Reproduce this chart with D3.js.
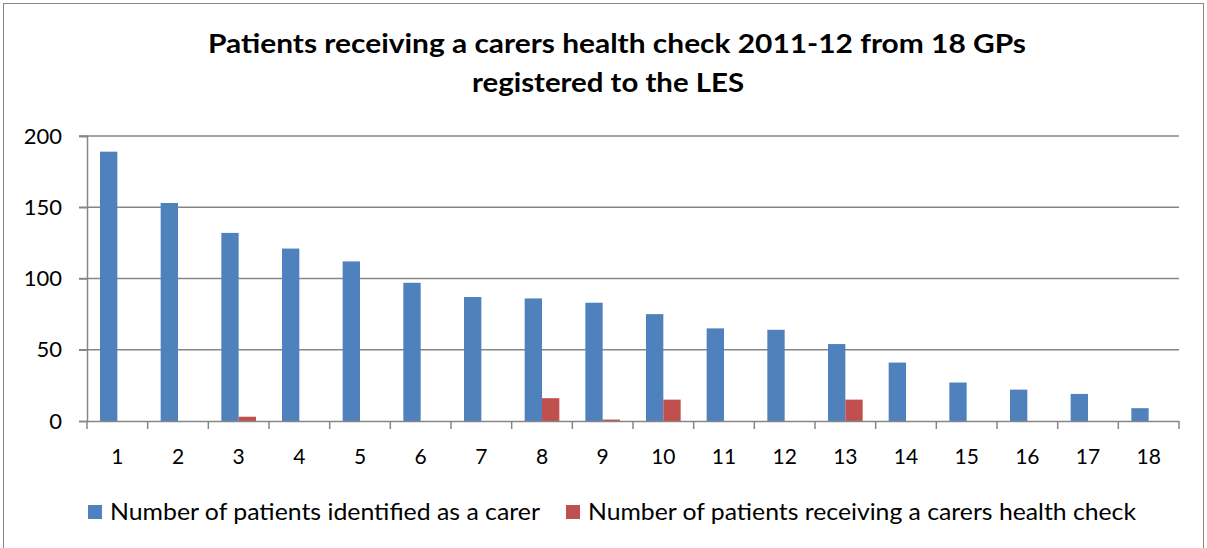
<!DOCTYPE html>
<meta charset="utf-8">
<style>
  body { margin: 0; background: #fff; }
  text { font-family: Lato, "Liberation Sans", sans-serif; fill: #000; }
</style>
<body>
<div id="chart"></div>
<script src="https://cdn.jsdelivr.net/npm/d3@7"></script>
<script>
    var width = 1207, height = 548;

    var practices = d3.range(1, 19).map(String);
    var carers = [189, 153, 132, 121, 112, 97, 87, 86, 83, 75, 65, 64, 54, 41, 27, 22, 19, 9];
    var checks = [0, 0, 3, 0, 0, 0, 0, 16, 1, 15, 0, 0, 15, 0, 0, 0, 0, 0];
    var seriesNames = ["Number of patients identified as a carer", "Number of patients receiving a carers health check"];
    var colors = ["#4f81bd", "#c0504d"];
    var yTicks = [0, 50, 100, 150, 200];

    var margin = {left: 87, right: 1179, top: 136, bottom: 421};

    var svg = d3.select("#chart").append("svg")
        .attr("width", width)
        .attr("height", height);

    // chart frame
    svg.append("rect")
        .attr("x", 3.5).attr("y", 3.5)
        .attr("width", 1200).attr("height", 560)
        .style("fill", "none")
        .style("stroke", "#888")
        .style("stroke-width", 1);

    var x = d3.scaleBand()
        .domain(practices)
        .range([margin.left, margin.right]);

    // two bars per band, gap width 150% of a bar
    var bw = x.bandwidth() / 3.5;
    var inner = d3.scaleBand().domain([0, 1]).range([0.75 * bw, 2.75 * bw]);

    var y = d3.scaleLinear().domain([0, 200]).range([margin.bottom, margin.top]);

    // gridlines
    svg.append("g")
        .selectAll("line")
        .data(yTicks.slice(1))
        .enter().append("line")
        .attr("x1", margin.left - 8).attr("x2", margin.right)
        .attr("y1", function(d) { return y(d); })
        .attr("y2", function(d) { return y(d); })
        .style("stroke", "#868686")
        .style("stroke-width", 1.5);

    // bars
    var groups = svg.append("g")
        .selectAll("g")
        .data(practices)
        .enter().append("g")
        .attr("transform", function(d) { return "translate(" + x(d) + ",0)"; });

    [carers, checks].forEach(function(series, s) {
        groups.append("rect")
            .attr("x", inner(s))
            .attr("width", inner.bandwidth())
            .attr("y", function(d, i) { return y(series[i]); })
            .attr("height", function(d, i) { return y(0) - y(series[i]); })
            .style("fill", colors[s]);
    });

    // y axis
    var yAxis = svg.append("g")
        .attr("transform", "translate(" + margin.left + ",0)")
        .call(d3.axisLeft(y).tickValues(yTicks).tickSize(8).tickPadding(17));
    yAxis.select(".domain").style("stroke", "#868686").style("stroke-width", 1.5);
    yAxis.selectAll(".tick line").style("stroke", "#868686").style("stroke-width", 1.5);
    yAxis.selectAll("text").style("font-size", "22px").attr("fill", "#000")
        .style("font-family", "Lato, sans-serif");

    // x axis
    var xAxis = svg.append("g")
        .attr("transform", "translate(0," + margin.bottom + ")")
        .call(d3.axisBottom(x).tickSize(0).tickPadding(0));
    xAxis.select(".domain").style("stroke", "#868686").style("stroke-width", 1.5);
    xAxis.selectAll("text").style("font-size", "21px").attr("fill", "#000")
        .style("font-family", "Lato, sans-serif")
        .attr("y", 43).attr("dy", "0");
    svg.append("g").selectAll("line")
        .data(practices.concat(["end"]))
        .enter().append("line")
        .attr("x1", function(d) { return d === "end" ? margin.right : x(d); })
        .attr("x2", function(d) { return d === "end" ? margin.right : x(d); })
        .attr("y1", margin.bottom).attr("y2", margin.bottom + 8)
        .style("stroke", "#868686").style("stroke-width", 1.5);

    // title
    var title = svg.append("g").style("font-weight", "bold").style("font-size", "26px");
    title.append("text").attr("x", 617).attr("y", 53).attr("text-anchor", "middle")
        .attr("textLength", 818).attr("lengthAdjust", "spacingAndGlyphs")
        .text("Patients receiving a carers health check 2011-12 from 18 GPs");
    title.append("text").attr("x", 608).attr("y", 92).attr("text-anchor", "middle")
        .attr("textLength", 272).attr("lengthAdjust", "spacingAndGlyphs")
        .text("registered to the LES");

    // legend
    var legendX = [88, 566], legendLen = [430, 548];
    var legend = svg.append("g").selectAll("g")
        .data(seriesNames)
        .enter().append("g")
        .attr("transform", function(d, i) { return "translate(" + legendX[i] + ",505)"; });
    legend.append("rect").attr("width", 14).attr("height", 14)
        .style("fill", function(d, i) { return colors[i]; });
    legend.append("text").attr("x", 22).attr("y", 15)
        .style("font-size", "23px")
        .attr("textLength", function(d, i) { return legendLen[i]; })
        .attr("lengthAdjust", "spacingAndGlyphs")
        .text(function(d) { return d; });
</script>
</body>
